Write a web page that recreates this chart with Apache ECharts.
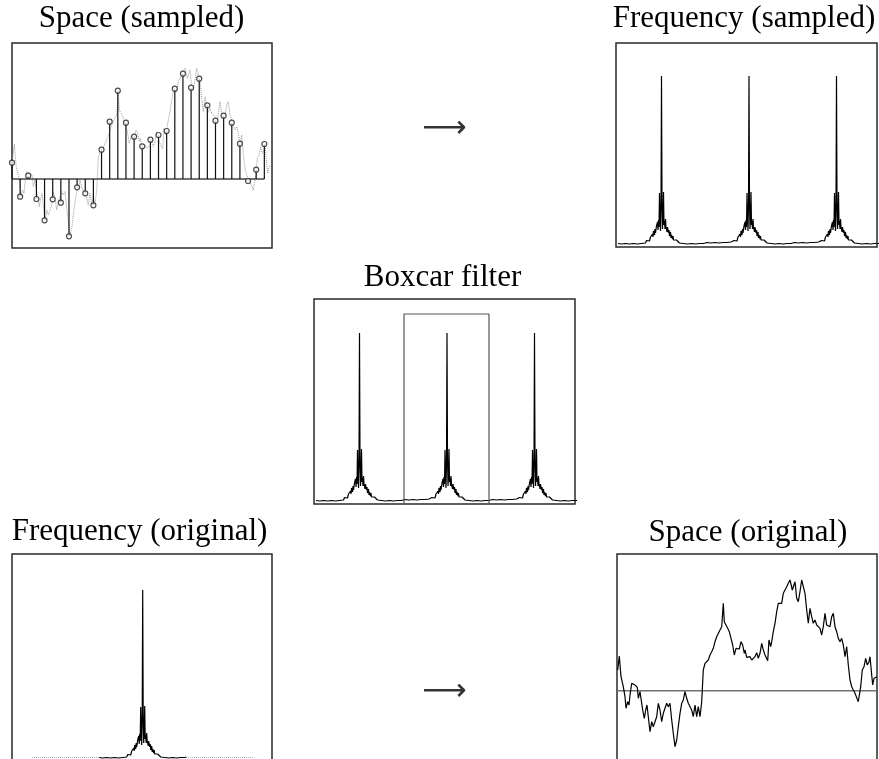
<!DOCTYPE html>
<html>
<head>
<meta charset="utf-8">
<script src="https://cdn.jsdelivr.net/npm/echarts@6/dist/echarts.min.js"></script>
<style>html,body{margin:0;padding:0;background:#fff;overflow:hidden;}#c{width:879px;height:772px;}</style>
</head>
<body>
<div id="c"></div>
<script>
// ---- Data ----
// Original (continuous) signal: positions along the space axis and amplitudes
const signalT = [0.7,2.3,4.0,6.3,8.0,9.0,10.7,12.0,13.0,14.7,16.3,18.0,19.0,20.3,21.3,23.0,24.7,25.7,27.3,28.7,30.0,31.3,33.0,34.7,36.3,38.0,39.7,41.3,43.0,44.7,46.3,48.0,49.7,51.3,53.0,54.7,56.3,58.0,59.7,61.3,63.0,64.7,66.3,68.0,69.7,71.3,73.0,74.7,76.3,78.0,79.7,81.3,83.0,84.7,86.3,88.0,89.7,91.3,93.0,94.7,96.3,98.0,99.7,101.3,103.0,104.7,106.3,107.3,109.0,110.7,112.3,114.0,115.7,117.3,119.0,120.7,122.3,124.0,125.7,127.3,128.0,129.7,131.3,133.0,134.7,136.3,138.0,139.7,141.3,143.0,144.7,146.3,148.0,149.7,150.7,152.0,153.7,154.7,156.3,158.0,159.7,161.3,163.0,164.7,166.3,168.0,169.7,171.3,173.0,174.0,175.3,176.7,178.0,179.7,181.3,183.0,184.7,186.3,188.0,189.7,191.3,193.0,194.7,196.3,198.0,199.7,201.3,203.0,204.7,206.3,208.0,209.7,211.3,213.0,214.7,216.3,218.0,219.7,221.3,223.0,224.7,226.3,228.0,229.7,231.3,233.0,234.7,236.3,238.0,239.7,241.3,242.3,243.7,245.3,247.0,248.7,250.3,252.0,253.0,254.7,255.7,257.0,258.7,260.0];
const signalV = [20.7,34.7,14.0,4.0,-6.0,-17.6,-11.0,-14.3,-4.3,7.4,9.0,5.7,7.4,3.4,-7.6,-1.0,-2.0,-19.3,-27.6,-19.3,-14.3,-26.0,-41.0,-31.0,-36.0,-37.6,-26.0,-12.6,-19.3,-31.0,-22.6,-22.6,-12.6,-16.0,-12.6,-29.3,-42.6,-56.0,-49.3,-36.0,-22.6,-12.6,-9.3,-1.0,-7.6,-12.6,-11.0,-19.3,-26.0,-14.3,-26.0,-16.0,-26.0,-11.0,20.7,27.4,25.7,30.7,35.7,39.0,42.4,49.0,54.0,55.7,60.7,64.0,87.4,69.0,65.7,62.4,59.0,52.4,45.7,35.7,42.4,43.4,41.7,49.0,45.7,37.4,40.7,33.4,33.4,34.0,30.7,29.0,34.0,38.0,32.4,37.4,47.4,40.7,35.7,37.4,30.0,50.7,44.0,49.0,59.0,67.4,79.0,87.4,89.0,87.4,97.4,100.7,104.0,107.4,110.7,112.4,100.7,99.0,109.0,92.4,89.0,99.0,110.7,112.4,97.4,80.7,67.4,82.4,74.0,67.4,70.7,65.7,67.4,62.4,55.7,64.0,77.4,65.7,67.4,64.0,74.0,77.4,64.0,59.0,52.4,49.0,52.4,45.7,34.0,44.0,25.7,10.7,4.0,0.7,-2.6,-4.3,-11.0,-9.3,4.0,20.7,24.0,32.4,25.7,29.0,34.0,15.7,5.7,12.4,10.7,14.0];

// Samples of the signal (stems)
const sampleSpacing = 8.14;
const sampleValues = [16.3,-17.7,3.3,-20,-41.3,-20.3,-23.7,-57.3,-8.3,-14.3,-26.3,29.3,57.3,88.3,56.3,42.3,32.7,39.3,44,48,90.3,105.3,91.3,100.3,73.7,58.3,63.3,56.3,35.3,-2,9.3,35];

// One period of the magnitude spectrum: offsets from the peak and magnitudes
const specOffsets = [-43.5,-42,-40,-38,-36,-34,-32,-30,-28,-26,-24,-22,-20,-18,-16,-15,-14,-13,-12,-11,-10,-9,-8.5,-8,-7,-6.5,-6,-5,-4.5,-4,-3.5,-3,-2.5,-2,-1.5,-1,-0.5,0,0.5,1,1.5,2,2.5,3,3.5,4,4.5,5,5.5,6,7,7.5,8,9,9.5,10,11,11.5,12,13,14,15,16,17,18,20,22,24,26,28,30,32,34,36,38,40,42,43.5];
const specValues  = [3.5,4.5,3,4,3.5,4.5,3,4,3.5,4.5,3,4.5,3.5,5,4,6.5,5,8,6,10,8,13,10,16,12,18,14,21,19,25,17,27,20,54,32,16,42,171,45,18,30,55,22,26,18,28,20,22,15,20,14,17,11,15,9,12,8,11,7,9,5,7,5,6,4,5,3.5,4.5,3,4,3.5,4.5,3,4,3.5,4.5,3.5,4];

// Peak positions of the periodic (sampled) spectrum and of the original spectrum
const sampledPeaks = [45.5, 133, 220.5];
const originalPeak = 130.7;
// Faint continuation of the original spectrum's floor (position, magnitude)
const origFloorLeft  = [[20, 3.5], [87, 3.5]];
const origFloorRight = [[174, 3.5], [241, 3.5]];

// Boxcar filter: edges and height
const boxcarEdges = [90, 175];
const boxcarHeight = 190;

// Titles
const titles = ['Space (sampled)', 'Frequency (sampled)', 'Boxcar filter', 'Frequency (original)', 'Space (original)'];
const arrowGlyph = '\u27F6';

// ---- Build series data ----
const signalData = signalT.map((t, i) => [t, signalV[i]]);
const sampleData = sampleValues.map((v, i) => [i * sampleSpacing, v]);
function spectrumAt(centers) {
  const out = [];
  centers.forEach(c => specOffsets.forEach((o, i) => out.push([c + o, specValues[i]])));
  return out;
}
const sampledSpec = spectrumAt(sampledPeaks);
const originalSpec = spectrumAt([originalPeak]);
const boxcarData = [[boxcarEdges[0], 0], [boxcarEdges[0], boxcarHeight], [boxcarEdges[1], boxcarHeight], [boxcarEdges[1], 0]];

// ---- Layout ----
const BORDER = '#2a2a2a';
const grids = [
  {left: 12,  top: 43,  width: 260, height: 205},
  {left: 616, top: 43,  width: 261, height: 204},
  {left: 314, top: 299, width: 261, height: 205},
  {left: 12,  top: 554, width: 260, height: 207},
  {left: 617, top: 554, width: 260, height: 207}
].map(g => Object.assign({show: true, borderColor: BORDER, borderWidth: 1.5, backgroundColor: '#fff'}, g));

const xRanges = [[0,260],[0,261],[0,261],[0,260],[0,260]];
const yRanges = [[-69,136],[0,204],[0,205],[0,207],[-70.3,136.7]];
const hidden = {axisLine:{show:false}, axisTick:{show:false}, axisLabel:{show:false}, splitLine:{show:false}};
const xAxis = xRanges.map((r, i) => Object.assign({type:'value', gridIndex:i, min:r[0], max:r[1]}, hidden));
const yAxis = yRanges.map((r, i) => Object.assign({type:'value', gridIndex:i, min:r[0], max:r[1]}, hidden));

const noAnim = {animation:false, silent:true};
function lineS(idx, data, style, z) {
  return Object.assign({type:'line', xAxisIndex:idx, yAxisIndex:idx, data, showSymbol:false, symbol:'none',
    lineStyle: style, z: z || 2}, noAnim);
}

const series = [
  // Panel 0: sampled space
  lineS(0, signalData, {color:'#999', width:1, type:'dotted'}, 1),
  lineS(0, [[0,0],[(sampleValues.length-1)*sampleSpacing,0]], {color:'#444', width:1.5}, 2),
  Object.assign({type:'custom', xAxisIndex:0, yAxisIndex:0, data: sampleData, z:3,
    renderItem: function(params, api) {
      const p0 = api.coord([api.value(0), 0]);
      const p1 = api.coord([api.value(0), api.value(1)]);
      return {type:'line', shape:{x1:p0[0], y1:p0[1], x2:p1[0], y2:p1[1]}, style:{stroke:'#111', lineWidth:1.2}};
    }}, noAnim),
  Object.assign({type:'scatter', xAxisIndex:0, yAxisIndex:0, data: sampleData, symbol:'circle', symbolSize:5,
    itemStyle:{color:'#fff', borderColor:'#222', borderWidth:1.2}, z:4}, noAnim),
  // Panel 1: sampled spectrum
  lineS(1, sampledSpec, {color:'#000', width:1.2}, 2),
  // Panel 2: boxcar filter
  lineS(2, sampledSpec, {color:'#000', width:1.2}, 2),
  lineS(2, boxcarData, {color:'#555', width:1.2}, 3),
  // Panel 3: original spectrum
  lineS(3, origFloorLeft, {color:'#b0b0b0', width:1, type:'dotted'}, 1),
  lineS(3, origFloorRight, {color:'#b0b0b0', width:1, type:'dotted'}, 1),
  lineS(3, originalSpec, {color:'#000', width:1.2}, 2),
  // Panel 4: original space
  lineS(4, [[0,0],[260,0]], {color:'#707070', width:1.5}, 1),
  lineS(4, signalData, {color:'#000', width:1.2}, 2)
];

const titlePos = [[141.5, 19], [744, 19], [442.5, 278], [139.5, 532], [748, 533]];
const graphic = titles.map((t, i) => ({
  type:'text', x: titlePos[i][0], y: titlePos[i][1], silent:true,
  style:{text:t, font:'31px "Liberation Serif"', fill:'#000', textAlign:'center', textVerticalAlign:'middle'}
}));
[[444.5, 129], [444.5, 692]].forEach(p => graphic.push({
  type:'text', x:p[0], y:p[1], silent:true,
  style:{text:arrowGlyph, font:'31px "DejaVu Sans"', fill:'#333', textAlign:'center', textVerticalAlign:'middle'}
}));

const chart = echarts.init(document.getElementById('c'), null, {renderer:'canvas'});
chart.setOption({animation:false, backgroundColor:'#fff', grid: grids, xAxis, yAxis, series, graphic});
</script>
</body>
</html>
